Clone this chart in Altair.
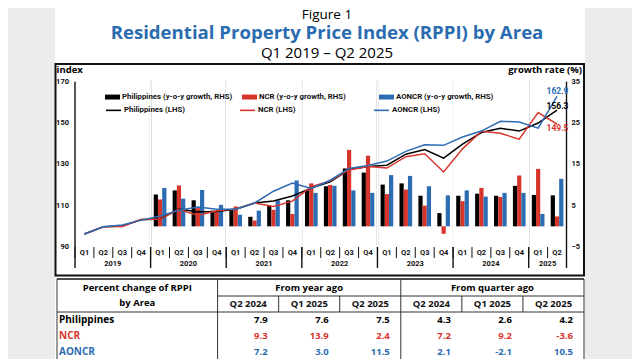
import altair as alt
import pandas as pd

quarters = ["Q1 2019", "Q2 2019", "Q3 2019", "Q4 2019",
            "Q1 2020", "Q2 2020", "Q3 2020", "Q4 2020",
            "Q1 2021", "Q2 2021", "Q3 2021", "Q4 2021",
            "Q1 2022", "Q2 2022", "Q3 2022", "Q4 2022",
            "Q1 2023", "Q2 2023", "Q3 2023", "Q4 2023",
            "Q1 2024", "Q2 2024", "Q3 2024", "Q4 2024",
            "Q1 2025", "Q2 2025"]
years = ["2019", "2020", "2021", "2022", "2023", "2024", "2025"]
bar_quarters = quarters[4:]
left_ticks = [90, 110, 130, 150, 170]
right_ticks = [-5, 5, 15, 25, 35]

# Index (LHS)
phil_index = [96.3, 99.8, 100.2, 103.2, 103.6, 108.4, 107.0, 107.2, 108.3, 111.3, 112.3, 114.7, 118.5,
              121.6, 127.5, 129.0, 129.6, 134.9, 137.2, 133.0, 139.8, 145.4, 147.5, 146.1, 150.0, 156.3]
ncr_index = [96.3, 99.8, 99.9, 103.4, 103.4, 108.3, 105.3, 107.5, 108.4, 111.3, 109.6, 112.2, 119.2,
             122.0, 127.3, 129.0, 128.2, 133.7, 135.1, 126.3, 137.5, 146.0, 145.0, 142.2, 155.1, 149.5]
aoncr_index = [96.3, 99.8, 100.6, 103.0, 105.0, 107.8, 109.3, 108.3, 108.3, 111.3, 117.0, 121.0, 118.3,
               122.3, 128.0, 129.4, 131.6, 136.3, 139.5, 139.2, 143.2, 146.1, 150.8, 150.5, 147.5, 162.9]

# y-o-y growth (RHS), Q1 2020 onwards
phil_yoy = [7.7, 8.7, 6.3, 3.8, 3.9, 2.3, 5.0, 6.3, 8.7, 9.7, 14.0, 13.0, 10.1, 10.4, 7.4, 3.2,
            7.4, 7.9, 7.4, 9.8, 7.6, 7.5]
ncr_yoy = [6.5, 9.9, 4.4, 3.7, 4.8, 1.4, 4.0, 3.0, 10.4, 10.0, 18.5, 17.1, 7.8, 8.9, 5.0, -1.8,
           6.1, 9.3, 7.1, 12.3, 13.9, 2.4]
aoncr_yoy = [9.3, 6.7, 8.8, 5.2, 2.8, 3.8, 6.3, 11.1, 8.1, 9.8, 8.7, 8.1, 12.4, 12.2, 9.7, 7.5,
             8.7, 7.2, 8.1, 8.1, 3.0, 11.5]

areas = ["Philippines", "NCR", "AONCR"]
bar_labels = ["Philippines (y-o-y growth, RHS)", "NCR (y-o-y growth, RHS)", "AONCR (y-o-y growth, RHS)"]
line_labels = ["Philippines (LHS)", "NCR (LHS)", "AONCR (LHS)"]
area_colors = ["#000000", "#d7352c", "#2c6cb3"]

table_cols = ["Q2 2024", "Q1 2025", "Q2 2025", "Q2 2024", "Q1 2025", "Q2 2025"]
table_phil = [7.9, 7.6, 7.5, 4.3, 2.6, 4.2]
table_ncr = [9.3, 13.9, 2.4, 7.2, 9.2, -3.6]
table_aoncr = [7.2, 3.0, 11.5, 2.1, -2.1, 10.5]

TITLE_BLUE = "#2b6cb0"
FONT = "Open Sans"
SFONT = "Roboto"
INK = "#111111"
W, H = 624, 351

# ---------------- data frames ----------------
lines_df = pd.DataFrame([
    {"q": q, "i": i, "label": lab, "v": v}
    for lab, series in zip(line_labels, [phil_index, ncr_index, aoncr_index])
    for i, (q, v) in enumerate(zip(quarters, series))
])
bars_df = pd.DataFrame([
    {"q": q, "label": lab, "v": v}
    for lab, series in zip(bar_labels, [phil_yoy, ncr_yoy, aoncr_yoy])
    for q, v in zip(bar_quarters, series)
])
q_df = pd.DataFrame({"q": quarters, "t": [q.split(" ")[0] for q in quarters]})
year_q = {y: [q for q in quarters if q.endswith(y)] for y in years}
year_label_df = pd.DataFrame([{"q": qs[len(qs) // 2], "t": y} for y, qs in year_q.items()])
year_start_df = pd.DataFrame([{"q": qs[0]} for qs in year_q.values()])
end_df = pd.DataFrame({"q": [quarters[-1]]})
lt_df = pd.DataFrame({"v": left_ticks})
rt_df = pd.DataFrame({"v": right_ticks})

table_df = pd.DataFrame([
    {"row": a, "r": ri, "c": ci + 1, "t": f"{v:.1f}"}
    for ri, (a, vals) in enumerate(zip(areas, [table_phil, table_ncr, table_aoncr]))
    for ci, v in enumerate(vals)
])
row_df = pd.DataFrame({"row": areas, "r": list(range(len(areas)))})
head_df = pd.DataFrame({"c": list(range(1, 7)), "t": table_cols})

# ---------------- scales ----------------
xs = alt.Scale(type="band", domain=quarters, range=[67, 558.5], paddingInner=0, paddingOuter=0)
yl = alt.Scale(domain=[90, 170], range=[239, 73.7], zero=False, nice=False)
yr = alt.Scale(domain=[-5, 35], range=[239, 73.7], zero=False, nice=False)
xo = alt.Scale(domain=bar_labels, paddingInner=0, paddingOuter=0.74)
cs_bar = alt.Scale(domain=bar_labels, range=area_colors)
cs_line = alt.Scale(domain=line_labels, range=area_colors)
xt = alt.Scale(domain=[0, 6], range=[209.6, 576], zero=False, nice=False)
yt = alt.Scale(domain=[0, 2], range=[312, 344], zero=False, nice=False)
fs = alt.Scale(domain=areas, range=area_colors)

leg_common = dict(
    title=None, orient="none", columns=3, gridAlign="all", symbolSize=225,
    labelFont=SFONT, labelFontSize=7.8, labelFontWeight="bold", labelColor=INK,
    labelOffset=2, labelLimit=300, padding=0, rowPadding=0,
)
bar_legend = alt.Legend(legendX=97, legendY=81.2, symbolType="M-1,-0.33H1V0.33H-1Z",
                        symbolStrokeWidth=0, columnPadding=9, **leg_common)
line_legend = alt.Legend(legendX=97, legendY=93.5, symbolType="stroke",
                         symbolStrokeWidth=1.6, columnPadding=51, **leg_common)


def vtext(t, x, y, size, weight="bold", color="#000", align="center", font=FONT, baseline="alphabetic"):
    return alt.Chart(pd.DataFrame({"t": [t]})).mark_text(
        font=font, fontSize=size, fontWeight=weight, color=color, align=align, baseline=baseline
    ).encode(text="t:N", x=alt.value(x), y=alt.value(y))


def vrule(x, y, x2=None, y2=None, color="#000", width=1.0):
    enc = {"x": alt.value(x), "y": alt.value(y)}
    if x2 is not None:
        enc["x2"] = alt.value(x2)
    if y2 is not None:
        enc["y2"] = alt.value(y2)
    return alt.Chart(pd.DataFrame({"a": [0]})).mark_rule(color=color, strokeWidth=width).encode(**enc)


def vrect(x, x2, y, y2, fill, stroke=None, sw=0):
    kw = {"fill": fill, "strokeWidth": sw}
    if stroke:
        kw["stroke"] = stroke
    return alt.Chart(pd.DataFrame({"a": [0]})).mark_rect(**kw).encode(
        x=alt.value(x), x2=alt.value(x2), y=alt.value(y), y2=alt.value(y2))


# ---------------- chart layers ----------------
paper = vrect(47, 577, 0, H, "white")
frame = vrect(47.5, 576, 56, 267.5, "white", stroke=INK, sw=2)

bars = alt.Chart(bars_df).mark_bar().encode(
    x=alt.X("q:N", scale=xs, axis=None),
    xOffset=alt.XOffset("label:N", scale=xo),
    y=alt.Y("v:Q", scale=yr, axis=None),
    y2=alt.datum(0),
    color=alt.Color("label:N", scale=cs_bar, legend=bar_legend),
)

lines = alt.Chart(lines_df).mark_line(strokeWidth=1.5).encode(
    x=alt.X("q:N", scale=xs, axis=None),
    y=alt.Y("v:Q", scale=yl, axis=None),
    color=alt.Color("label:N", scale=cs_line, legend=line_legend),
    order="i:Q",
)

# axes drawn from the scales
left_labels = alt.Chart(lt_df).mark_text(
    font=SFONT, fontSize=7.5, fontWeight="bold", color=INK, align="right", baseline="middle"
).encode(x=alt.value(61), y=alt.Y("v:Q", scale=yl, axis=None), text="v:Q")
right_labels = alt.Chart(rt_df).mark_text(
    font=SFONT, fontSize=7.5, fontWeight="bold", color=INK, align="left", baseline="middle"
).encode(x=alt.value(563.5), y=alt.Y("v:Q", scale=yr, axis=None), text="v:Q")
q_ticks = alt.Chart(q_df).mark_rule(color=INK, strokeWidth=1).encode(
    x=alt.X("q:N", scale=xs, bandPosition=0, axis=None), y=alt.value(239), y2=alt.value(250))
q_labels = alt.Chart(q_df).mark_text(
    font=SFONT, fontSize=7.5, fontWeight="bold", color=INK, baseline="middle"
).encode(x=alt.X("q:N", scale=xs, axis=None), y=alt.value(245), text="t:N")
year_rules = alt.Chart(year_start_df).mark_rule(color=INK, strokeWidth=1.4).encode(
    x=alt.X("q:N", scale=xs, bandPosition=0, axis=None), y=alt.value(73.7), y2=alt.value(260))
end_rule = alt.Chart(end_df).mark_rule(color=INK, strokeWidth=1.4).encode(
    x=alt.X("q:N", scale=xs, bandPosition=1, axis=None), y=alt.value(73.7), y2=alt.value(260))
year_text = alt.Chart(year_label_df).mark_text(
    font=SFONT, fontSize=7.5, fontWeight="bold", color=INK, baseline="middle"
).encode(x=alt.X("q:N", scale=xs, bandPosition=0, axis=None), y=alt.value(256), text="t:N")

# year dividers only run below the plot
inner_year = alt.Chart(pd.DataFrame({"q": [qs[0] for qs in list(year_q.values())[1:]]})).mark_rule(
    color="white", strokeWidth=2).encode(
    x=alt.X("q:N", scale=xs, bandPosition=0, axis=None), y=alt.value(73.7), y2=alt.value(239))

end_labels = []
for val, col, dy in [(aoncr_index[-1], area_colors[2], -5),
                     (phil_index[-1], area_colors[0], -4),
                     (ncr_index[-1], area_colors[1], 4)]:
    d = pd.DataFrame({"q": [quarters[-1]], "v": [val], "t": [f"{val:.1f}"]})
    end_labels.append(alt.Chart(d).mark_text(
        font=SFONT, fontSize=8.5, fontWeight="bold", color=col, align="right",
        baseline="middle", dx=2, dy=dy
    ).encode(x=alt.X("q:N", scale=xs, bandPosition=1, axis=None),
             y=alt.Y("v:Q", scale=yl, axis=None), text="t:N"))

# ---------------- titles ----------------
titles = [
    vtext("Figure 1", 319, 10.6, 13.5, weight="normal"),
    vtext("Residential Property Price Index (RPPI) by Area", 319, 31.2, 18.6, color=TITLE_BLUE),
    vtext("Q1 2019 \u2013 Q2 2025", 319, 50.2, 15, weight="normal"),
    vtext("index", 48.5, 62, 9.5, align="left", baseline="middle"),
    vtext("growth rate (%)", 574, 62, 9.5, align="right", baseline="middle"),
]

# ---------------- table ----------------
tline = "#333"
table_lines = [
    vrule(49, 271, x2=576, color=INK, width=1.5),
    vrule(209.6, 288, x2=576, color=tline),
    vrule(49, 304, x2=576, color=tline),
    vrule(49, 271, y2=360, color=tline),
    vrule(576, 271, y2=360, color=tline),
]
col_rules = alt.Chart(pd.DataFrame({"c": [0, 3]})).mark_rule(color=tline, strokeWidth=1).encode(
    x=alt.X("c:Q", scale=xt, axis=None), y=alt.value(271), y2=alt.value(360))
sub_rules = alt.Chart(pd.DataFrame({"c": [1, 2, 4, 5]})).mark_rule(color=tline, strokeWidth=1).encode(
    x=alt.X("c:Q", scale=xt, axis=None), y=alt.value(288), y2=alt.value(304))
table_head = [
    vtext("Percent change of RPPI", 129.3, 282.5, 9.5),
    vtext("by Area", 129.3, 297.5, 9.5),
    vtext("From year ago", 301.2, 282.5, 9.5),
    vtext("From quarter ago", 484.4, 282.5, 9.5),
]
q_head = alt.Chart(head_df).mark_text(
    font=FONT, fontSize=9.5, fontWeight="bold", color=INK, baseline="middle", dx=-30.5
).encode(x=alt.X("c:Q", scale=xt, axis=None), y=alt.value(296), text="t:N")
row_text = alt.Chart(row_df).mark_text(
    font=FONT, fontSize=10, fontWeight="bold", align="left", baseline="middle"
).encode(x=alt.value(51), y=alt.Y("r:Q", scale=yt, axis=None), text="row:N",
         fill=alt.Fill("row:N", scale=fs, legend=None))
num_text = alt.Chart(table_df).mark_text(
    font=FONT, fontSize=9.5, fontWeight="bold", align="right", baseline="middle", dx=-11
).encode(x=alt.X("c:Q", scale=xt, axis=None), y=alt.Y("r:Q", scale=yt, axis=None), text="t:N",
         fill=alt.Fill("row:N", scale=fs, legend=None))

chart = alt.layer(
    paper, frame, year_rules, end_rule, inner_year, q_ticks, bars, lines, q_labels, year_text,
    left_labels, right_labels, *end_labels, *titles,
    *table_lines, col_rules, sub_rules, *table_head, q_head, row_text, num_text
).resolve_scale(x="independent", y="independent", color="independent").properties(
    width=W, height=H, autosize=alt.AutoSizeParams(type="none"), padding=0,
    background="#ececec"
).configure_view(stroke=None)

chart.save("out.html", embed_options={"renderer": "svg", "actions": False})
